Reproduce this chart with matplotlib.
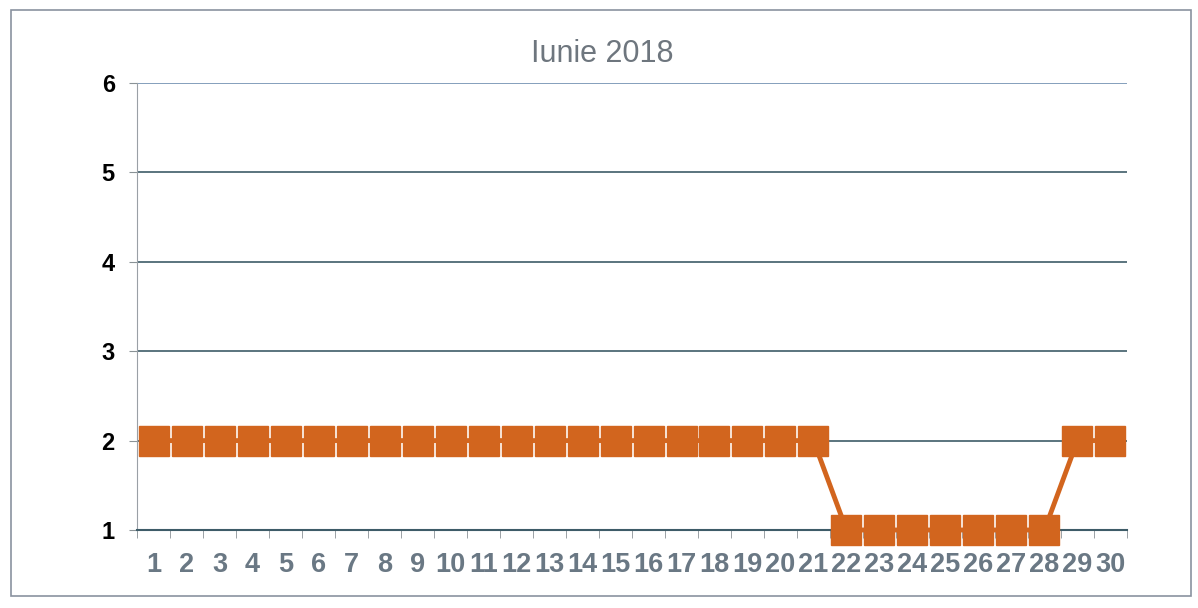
import matplotlib.pyplot as plt
from matplotlib.patches import Rectangle

days = list(range(1, 31))
values = [2] * 21 + [1] * 7 + [2, 2]
title = "Iunie 2018"
orange = "#D2651E"

fig = plt.figure(figsize=(11.98, 6.08), dpi=100)
ax = fig.add_axes([0.1144, 0.1283, 0.8263, 0.7352])

ax.plot(days, values, color=orange, lw=3.5, marker="s", markersize=21,
        markerfacecolor=orange, markeredgecolor=orange, zorder=3, clip_on=False)

ax.set_xlim(0.5, 30.5)
ax.set_ylim(1, 6)
ax.set_yticks([1, 2, 3, 4, 5, 6])
ax.grid(axis="y", color="#3E5C68", lw=1.2)
ax.set_axisbelow(True)

# category axis: ticks between categories, labels centred
ax.set_xticks([d + 0.5 for d in range(0, 31)], minor=True)
ax.set_xticks(days)
ax.set_xticklabels([str(d) for d in days])
ax.tick_params(axis="x", which="major", length=0, pad=16, labelsize=19.5,
               labelcolor="#6A7884")
ax.tick_params(axis="x", which="minor", length=6, color="#8A9296", direction="out")
ax.tick_params(axis="y", length=6, color="#8A9296", labelsize=17, pad=10)
for lbl in ax.get_xticklabels():
    lbl.set_family("Liberation Sans")
    lbl.set_fontweight("bold")
for lbl in ax.get_yticklabels():
    lbl.set_family("Liberation Sans")
    lbl.set_fontweight("bold")

for s in ["top", "right"]:
    ax.spines[s].set_visible(False)
ax.spines["left"].set_color("#9AA0A6")
ax.spines["bottom"].set_color("#3E5C68")
ax.spines["bottom"].set_linewidth(1.5)
ax.get_ygridlines()[-1].set_color("#6F8FB0")

fig.text(0.503, 0.911, title, fontsize=22, color="#6E767E", family="Liberation Sans",
         ha="center", va="center")

fig.patches.append(Rectangle((0.009, 0.02), 0.985, 0.963, transform=fig.transFigure,
                             fill=False, edgecolor="#8A92A0", lw=1.2))

fig.savefig("out.png", dpi=100)
